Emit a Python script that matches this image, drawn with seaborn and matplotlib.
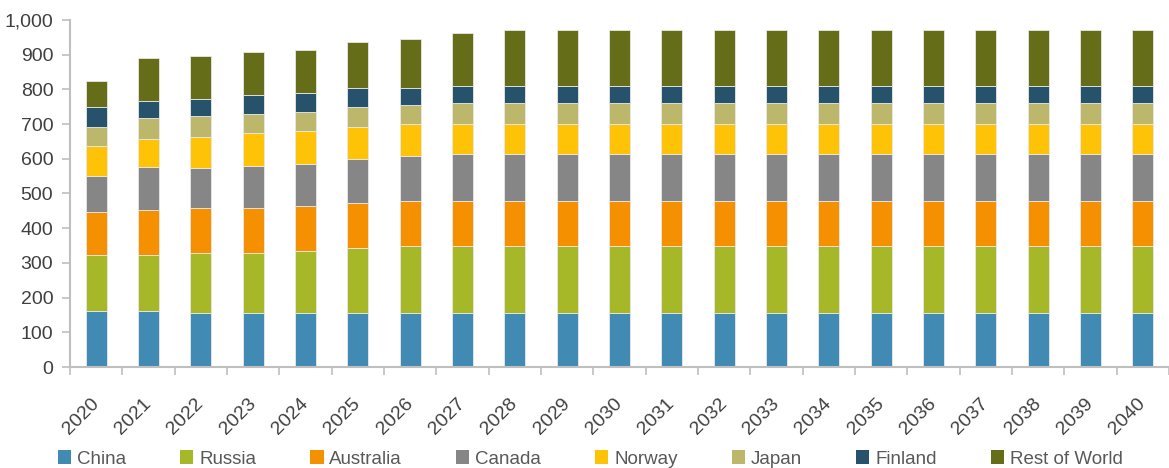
import numpy as np
import pandas as pd
import seaborn as sns
import matplotlib.pyplot as plt
import matplotlib.transforms as mtransforms
from matplotlib.ticker import FuncFormatter
from matplotlib.patches import Patch

# data (stacked layers, bottom to top)
years = [str(y) for y in range(2020, 2041)]
china = [162, 162, 156, 156, 156, 156, 156] + [156] * 14
russia = [160, 160, 172, 172, 179, 186, 192] + [192] * 14
australia = [124, 130, 130, 130, 130, 130, 130] + [130] * 14
canada = [104, 123, 116, 122, 121, 128, 129] + [135] * 14
norway = [87, 81, 88, 94, 94, 92, 92] + [86] * 14
japan = [56, 61, 61, 55, 55, 56, 56] + [62] * 14
finland = [56, 49, 49, 54, 55, 56, 50] + [48] * 14
rest_of_world = [74, 124, 123, 125, 123, 134, 141, 154] + [161] * 13

series = ["China", "Russia", "Australia", "Canada", "Norway", "Japan", "Finland", "Rest of World"]
values = [china, russia, australia, canada, norway, japan, finland, rest_of_world]
colors = ["#418ab3", "#a6b727", "#f59100", "#868686", "#fec306", "#bdb76b", "#26536b", "#656d18"]

sns.set_style("white")
plt.rcParams['font.family'] = ['Liberation Sans', 'DejaVu Sans']

fig = plt.figure(figsize=(11.69, 4.68), dpi=100)
ax = fig.add_axes([70 / 1169, (468 - 367) / 468, 1 - 70 / 1169, (367 - 20) / 468])

bottom = np.zeros(len(years))
for name, vals, c in zip(series, values, colors):
    sns.barplot(x=years, y=vals, bottom=bottom, color=c, width=0.4, ax=ax, saturation=1,
                edgecolor="#e8e8e8", linewidth=0.6, label=name)
    bottom += np.array(vals)

ax.set_ylim(0, 1000)
ax.set_xlim(-0.5, 20.43)
ax.set_yticks(np.arange(0, 1001, 100))
ax.yaxis.set_major_formatter(FuncFormatter(lambda v, p: f"{int(v):,}"))

for s in ["top", "right"]:
    ax.spines[s].set_visible(False)
for s in ["left", "bottom"]:
    ax.spines[s].set_color("#bfbfbf")
    ax.spines[s].set_linewidth(1.5)

ax.tick_params(axis="y", labelsize=14, colors="#404040", length=6, width=1.2,
               direction="out", left=True, color="#bfbfbf", pad=6)
ax.set_xticks(range(len(years)))
ax.set_xticklabels(years, rotation=45, ha="right", rotation_mode="anchor")
ax.tick_params(axis="x", labelsize=14, colors="#404040", length=0, pad=8)
shift = mtransforms.ScaledTranslation(-6 / 100, -17 / 100, fig.dpi_scale_trans)
for lbl in ax.get_xticklabels():
    lbl.set_transform(lbl.get_transform() + shift)
# tick marks between categories
ax.set_xticks(np.arange(-0.5, len(years), 1), minor=True)
ax.tick_params(axis="x", which="minor", length=6, width=1.2, color="#bfbfbf", bottom=True)
ax.set_xlabel("")
ax.set_ylabel("")
if ax.get_legend():
    ax.get_legend().remove()

handles = [Patch(facecolor=c, edgecolor="none") for c in colors]
fig.legend(handles, series, loc="lower center", ncol=8, frameon=False,
           bbox_to_anchor=(0.505, -0.035), fontsize=13.5, handlelength=0.7, handleheight=0.7,
           handletextpad=0.3, columnspacing=2.9, labelcolor="#595959")

fig.savefig("out.png", dpi=100)
